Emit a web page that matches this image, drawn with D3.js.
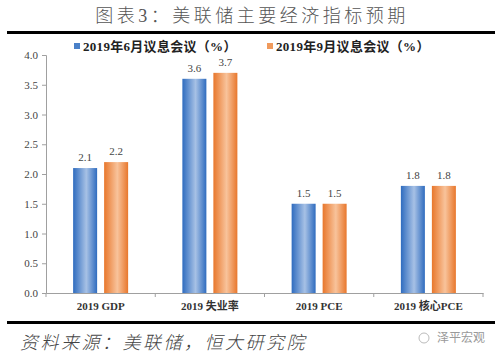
<!DOCTYPE html>
<html><head><meta charset="utf-8">
<script src="https://cdn.jsdelivr.net/npm/d3@7"></script>
<style>
body{margin:0;background:#fff;}
svg{display:block;}
</style></head>
<body>
<svg id="c" width="500" height="355"></svg>
<script>
const categories = ["2019 GDP", "2019 失业率", "2019 PCE", "2019 核心PCE"];
const seriesNames = ["2019年6月议息会议（%）", "2019年9月议息会议（%）"];
const june = [2.1, 3.6, 1.5, 1.8];
const sept = [2.2, 3.7, 1.5, 1.8];
const yTicks = [0, 0.5, 1.0, 1.5, 2.0, 2.5, 3.0, 3.5, 4.0];

const svg = d3.select("#c");
const serif = "'Liberation Serif','Times New Roman','Noto Sans CJK SC',serif";
const cjk = "'Liberation Serif','Noto Sans CJK SC',serif";

const defs = svg.append("defs");
function grad(id, edge, mid) {
  const g = defs.append("linearGradient").attr("id", id).attr("x1", "0").attr("x2", "1").attr("y1", "0").attr("y2", "0");
  g.append("stop").attr("offset", "0%").attr("stop-color", edge);
  g.append("stop").attr("offset", "55%").attr("stop-color", mid);
  g.append("stop").attr("offset", "100%").attr("stop-color", edge);
}
grad("gBlue", "#2f6cbf", "#a7c1e5");
grad("gOrange", "#e8772c", "#f8c39b");

// Title
svg.append("text").attr("x", 252).attr("y", 22).attr("text-anchor", "middle")
  .attr("font-family", cjk).attr("font-size", 18).attr("font-weight", 300).attr("fill", "#555")
  .attr("letter-spacing", 3.5).text("图表3：美联储主要经济指标预期");
svg.append("rect").attr("x", 7).attr("y", 31).attr("width", 488).attr("height", 3).attr("fill", "#000");
svg.append("rect").attr("x", 7).attr("y", 321).attr("width", 488).attr("height", 3).attr("fill", "#000");

const x0 = d3.scaleBand().domain(categories).range([46, 483]);
const y = d3.scaleLinear().domain([0, 4]).range([293, 55]);

// Y axis
const yAxis = svg.append("g").attr("transform", "translate(46,0)")
  .call(d3.axisLeft(y).tickValues(yTicks).tickFormat(d3.format(".1f")).tickSize(4).tickPadding(4));
yAxis.select(".domain").attr("stroke", "#a0a0a0");
yAxis.selectAll(".tick line").attr("stroke", "#a0a0a0");
yAxis.selectAll("text").attr("font-family", serif).attr("font-size", 11).attr("fill", "#444");

// X axis
const xAxis = svg.append("g").attr("transform", "translate(0,293)")
  .call(d3.axisBottom(x0).tickSize(0).tickPadding(9));
xAxis.select(".domain").attr("stroke", "#a0a0a0");
xAxis.selectAll("text").attr("font-family", cjk).attr("font-size", 11).attr("font-weight", "bold").attr("fill", "#333");
// boundary ticks
const bounds = categories.map(c => x0(c)).concat([x0.range()[1]]);
svg.append("g").selectAll("line").data(bounds).join("line")
  .attr("x1", d => d).attr("x2", d => d).attr("y1", 293).attr("y2", 297).attr("stroke", "#a0a0a0");

const barW = 24, gap = 7;
const series = [{vals: june, fill: "url(#gBlue)"}, {vals: sept, fill: "url(#gOrange)"}];
series.forEach((s, si) => {
  const g = svg.append("g");
  categories.forEach((c, i) => {
    const cx = x0(c) + x0.bandwidth() / 2;
    const bx = si === 0 ? cx - gap / 2 - barW : cx + gap / 2;
    g.append("rect").attr("x", bx).attr("y", y(s.vals[i])).attr("width", barW)
      .attr("height", y(0) - y(s.vals[i])).attr("fill", s.fill);
    g.append("text").attr("x", bx + barW / 2).attr("y", y(s.vals[i]) - 7).attr("text-anchor", "middle")
      .attr("font-family", serif).attr("font-size", 11).attr("fill", "#444")
      .text(d3.format(".1f")(s.vals[i]));
  });
});

// Legend
const legX = [74, 267];
const legCol = ["#4a80c8", "#f09a5c"];
seriesNames.forEach((n, i) => {
  svg.append("rect").attr("x", legX[i]).attr("y", 43).attr("width", 6).attr("height", 6).attr("fill", legCol[i]);
  svg.append("text").attr("x", legX[i] + 9).attr("y", 51).attr("font-family", cjk)
    .attr("font-size", 13).attr("font-weight", "bold").attr("fill", "#222").attr("letter-spacing", 0.3).text(n);
});

// Footer
svg.append("text").attr("x", 20).attr("y", 349).attr("font-family", cjk).attr("font-size", 18)
  .attr("font-style", "italic").attr("font-weight", 300).attr("fill", "#444").attr("letter-spacing", 2.5).text("资料来源：美联储，恒大研究院");
svg.append("text").attr("x", 485).attr("y", 342).attr("text-anchor", "end").attr("font-family", cjk)
  .attr("font-size", 12).attr("fill", "#999").text("泽平宏观");
svg.append("circle").attr("cx", 424).attr("cy", 338).attr("r", 5).attr("fill", "none").attr("stroke", "#bbb");
</script>
</body></html>
